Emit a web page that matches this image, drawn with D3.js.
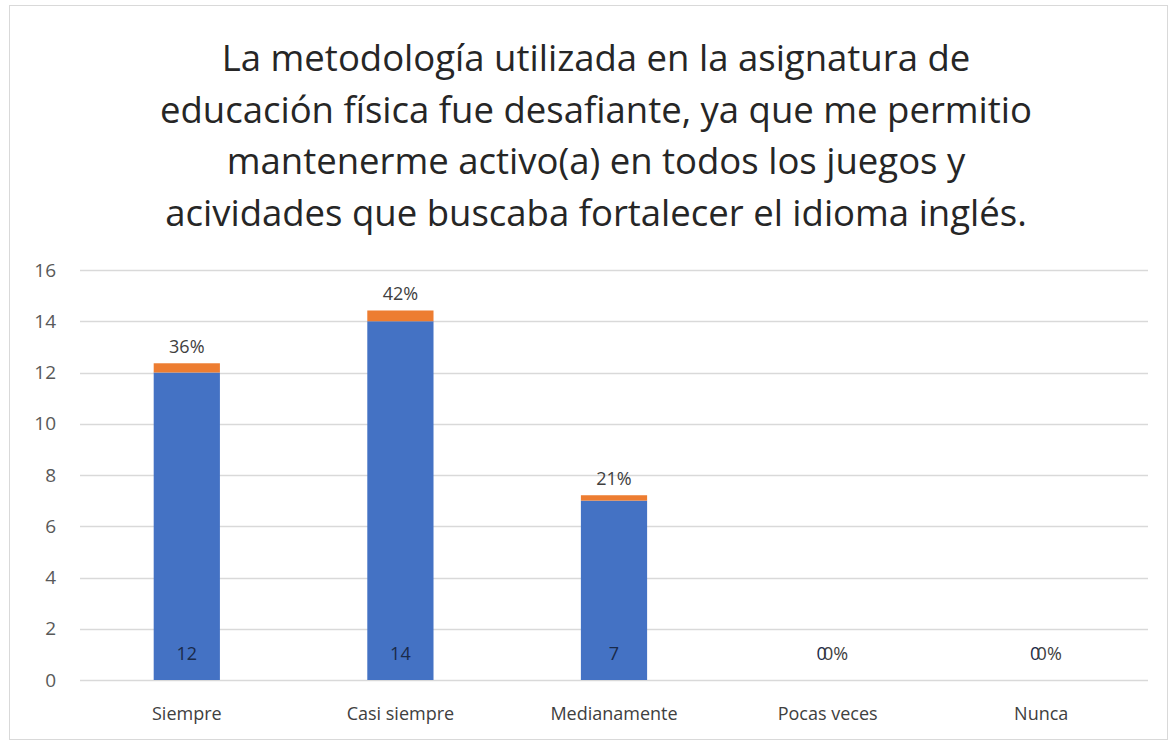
<!DOCTYPE html>
<html>
<head>
<meta charset="utf-8">
<script src="https://cdn.jsdelivr.net/npm/d3@7"></script>
<style>
  body { margin: 0; background: #fff; }
  svg text { font-family: "Open Sans", sans-serif; }
</style>
</head>
<body>
<div class="bar-chart"></div>
<script>
// Data
const categories = ['Siempre', 'Casi siempre', 'Medianamente', 'Pocas veces', 'Nunca'];
const counts = [12, 14, 7, 0, 0];
const shares = [0.36, 0.42, 0.21, 0, 0];
const shareLabels = ['36%', '42%', '21%', '0%', '0%'];
const yTicks = [0, 2, 4, 6, 8, 10, 12, 14, 16];
const titleLines = [
  'La metodología utilizada en la asignatura de',
  'educación física fue desafiante, ya que me permitio',
  'mantenerme activo(a) en todos los juegos y',
  'acividades que buscaba fortalecer el idioma inglés.'
];

// Setup
const width = 1172, height = 744;
const margin = { left: 80, right: 24, top: 270, bottom: 64 };

const svg = d3.select('.bar-chart')
  .append('svg')
  .attr('width', width)
  .attr('height', height);

// frame
svg.append('rect')
  .attr('x', 9.5).attr('y', 5.5)
  .attr('width', 1158).attr('height', 734)
  .attr('fill', '#fff')
  .attr('stroke', '#d9d9d9');

// title
svg.append('g')
  .selectAll('text')
  .data(titleLines)
  .enter()
  .append('text')
  .attr('x', 596)
  .attr('y', (d, i) => 71 + i * 51.5)
  .attr('text-anchor', 'middle')
  .attr('font-size', 36.5)
  .attr('fill', '#262626')
  .text(d => d);

// scales
const x = d3.scaleBand()
  .domain(categories)
  .range([margin.left, width - margin.right])
  .paddingInner(0.69)
  .paddingOuter(0.345);

const y = d3.scaleLinear()
  .domain([0, 16])
  .range([height - margin.bottom, margin.top]);

// gridlines
svg.append('g')
  .selectAll('line')
  .data(yTicks)
  .enter()
  .append('line')
  .attr('x1', margin.left)
  .attr('x2', width - margin.right)
  .attr('y1', d => Math.round(y(d)) + 0.5)
  .attr('y2', d => Math.round(y(d)) + 0.5)
  .attr('stroke', '#d9d9d9')
  .attr('stroke-width', 1.5);

// y axis
const yAxis = svg.append('g')
  .attr('transform', `translate(${margin.left - 24},0)`)
  .call(d3.axisLeft(y).tickValues(yTicks).tickSize(0).tickPadding(0));
yAxis.select('.domain').remove();
yAxis.selectAll('text')
  .attr('font-size', 19)
  .attr('fill', '#595959')
  .style('font-family', '"Open Sans", sans-serif');

// x axis
const xAxis = svg.append('g')
  .attr('transform', `translate(0,${height - margin.bottom})`)
  .call(d3.axisBottom(x).tickSize(0).tickPadding(27));
xAxis.select('.domain').remove();
xAxis.selectAll('text')
  .attr('font-size', 18)
  .attr('fill', '#404040')
  .style('font-family', '"Open Sans", sans-serif');

// stacked bars
const rows = categories.map((c, i) => ({ cat: c, count: counts[i], share: shares[i], label: shareLabels[i] }));
const stack = d3.stack().keys(['count', 'share'])(rows);
const colors = ['#4472C4', '#ED7D31'];

svg.append('g')
  .selectAll('g')
  .data(stack)
  .enter()
  .append('g')
  .attr('fill', (d, i) => colors[i])
  .selectAll('rect')
  .data(d => d)
  .enter()
  .append('rect')
  .attr('x', d => x(d.data.cat))
  .attr('width', x.bandwidth())
  .attr('y', d => y(d[1]))
  .attr('height', d => y(d[0]) - y(d[1]));

// count labels (inside base)
svg.append('g')
  .selectAll('text')
  .data(rows)
  .enter()
  .append('text')
  .attr('x', d => x(d.cat) + x.bandwidth() / 2 + (d.count === 0 ? -6 : 0))
  .attr('y', y(0) - 20)
  .attr('text-anchor', 'middle')
  .attr('font-size', 18)
  .attr('fill', '#1a2a4a')
  .text(d => d.count);

// percent labels (above; zero values collide with the count label)
svg.append('g')
  .selectAll('text')
  .data(rows)
  .enter()
  .append('text')
  .attr('x', d => x(d.cat) + x.bandwidth() / 2 + (d.count === 0 ? 8 : 0))
  .attr('y', d => d.count === 0 ? y(0) - 20 : y(d.count + d.share) - 10)
  .attr('text-anchor', 'middle')
  .attr('font-size', 18)
  .attr('fill', '#404040')
  .text(d => d.label);
</script>
</body>
</html>
